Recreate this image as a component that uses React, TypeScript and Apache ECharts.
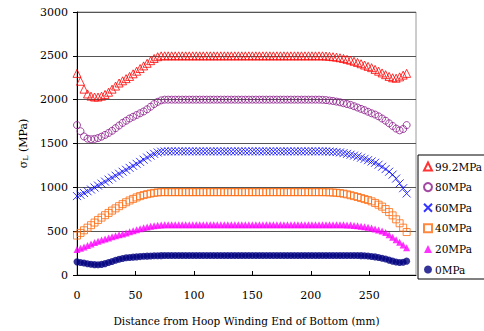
import React, { useEffect, useRef } from "react";
import * as echarts from "echarts";

const xs = [0,3,6,9,12,15,18,21,24,27,30,33,36,39,42,45,48,51,54,57,60,63,66,69,72,75,78,81,84,87,90,93,96,99,102,105,108,111,114,117,120,123,126,129,132,135,138,141,144,147,150,153,156,159,162,165,168,171,174,177,180,183,186,189,192,195,198,201,204,207,210,213,216,219,222,225,228,231,234,237,240,243,246,249,252,255,258,261,264,267,270,273,276,279,282];

const s992 = [2300,2210,2120,2065,2040,2030,2030,2040,2060,2085,2120,2155,2190,2215,2240,2265,2295,2325,2355,2385,2415,2445,2470,2490,2500,
2500,2500,2500,2500,2500,2500,2500,2500,2500,2500,2500,2500,2500,2500,2500,2500,2500,2500,2500,2500,2500,2500,2500,2500,2500,2500,2500,2500,2500,2500,2500,2500,2500,2500,2500,2500,2500,2500,2500,2500,2500,2500,2500,2500,2500,2500,
2498,2495,2490,2485,2478,2470,2460,2450,2438,2425,2410,2395,2380,2365,2345,2325,2305,2285,2265,2250,2245,2260,2280,2300];

const s80 = [1710,1640,1580,1555,1548,1552,1562,1578,1598,1620,1645,1675,1705,1735,1760,1785,1805,1825,1845,1865,1890,1920,1950,1975,1992,2000,
2000,2000,2000,2000,2000,2000,2000,2000,2000,2000,2000,2000,2000,2000,2000,2000,2000,2000,2000,2000,2000,2000,2000,2000,2000,2000,2000,2000,2000,2000,2000,2000,2000,2000,2000,2000,2000,2000,2000,2000,2000,2000,2000,2000,
1998,1995,1990,1985,1978,1970,1960,1950,1940,1925,1910,1895,1880,1862,1845,1830,1810,1785,1760,1730,1700,1670,1650,1665,1710];

const s60 = [900,915,935,955,975,998,1020,1042,1065,1088,1110,1133,1155,1178,1200,1222,1245,1268,1290,1315,1340,1362,1382,1398,1407,1410,
1410,1410,1410,1410,1410,1410,1410,1410,1410,1410,1410,1410,1410,1410,1410,1410,1410,1410,1410,1410,1410,1410,1410,1410,1410,1410,1410,1410,1410,1410,1410,1410,1410,1410,1410,1410,1410,1410,1410,1410,1410,1410,1410,1410,1410,
1410,1408,1405,1402,1398,1390,1382,1372,1362,1351,1338,1325,1310,1295,1280,1258,1235,1208,1178,1145,1100,1045,990,930];

const s40 = [450,480,510,540,568,598,628,655,682,708,735,760,785,808,830,850,868,885,900,912,922,930,937,942,945,
945,945,945,945,945,945,945,945,945,945,945,945,945,945,945,945,945,945,945,945,945,945,945,945,945,945,945,945,945,945,945,945,945,945,945,945,945,945,945,945,945,945,945,945,945,
945,944,943,941,938,934,928,920,910,900,890,878,866,855,840,822,802,780,752,718,680,635,590,540,490];

const s20 = [290,305,320,337,353,370,385,398,411,423,435,447,458,469,480,492,505,517,528,538,548,556,562,567,570,
572,572,572,572,572,572,572,572,572,572,572,572,572,572,572,572,572,572,572,572,572,572,572,572,572,572,572,572,572,572,572,572,572,572,572,572,572,572,572,572,572,572,572,572,572,572,572,572,572,572,572,
572,571,569,566,562,557,551,544,535,525,514,501,485,460,430,402,373,343,312];

const s0 = [150,143,136,129,122,118,117,121,130,142,155,168,180,189,196,200,204,207,210,213,215,217,219,220,221,222,
222,222,222,222,222,222,222,222,222,222,222,222,222,222,222,222,222,222,222,222,222,222,222,222,222,222,222,222,222,222,222,222,222,222,222,222,222,222,222,222,222,222,222,222,222,222,222,222,222,222,222,222,222,222,
222,221,219,216,212,207,200,192,182,170,158,148,143,145,158];

const seriesNames = ["99.2MPa", "80MPa", "60MPa", "40MPa", "20MPa", "0MPa"];
const xTicks = [0, 50, 100, 150, 200, 250];
const yTicks = [0, 500, 1000, 1500, 2000, 2500, 3000];

const FONT = "DejaVu Serif";

export default function App() {
  const ref = useRef<HTMLDivElement>(null);
  useEffect(() => {
    if (!ref.current) return;
    const chart = echarts.init(ref.current, null, { renderer: "svg" });
    const pairs = (arr: number[]) => xs.map((x, i) => [x, arr[i]]);
    const cross = "path://M0,0L10,10M10,0L0,10";
    const mk = (name: string, arr: number[], symbol: string, size: number, color: string, hollow: boolean) => ({
      name,
      type: "scatter",
      data: pairs(arr),
      symbol,
      symbolSize: size,
      itemStyle: hollow
        ? { color: "rgba(0,0,0,0)", borderColor: color, borderWidth: 1 }
        : { color, borderWidth: 0 },
      emphasis: { disabled: true },
    });
    chart.setOption({
      animation: false,
      backgroundColor: "#ffffff",
      textStyle: { fontFamily: FONT, color: "#000" },
      grid: {
        left: 77,
        right: 68,
        top: 12,
        bottom: 53.5,
        show: true,
        borderColor: "#9a9a9a",
        borderWidth: 1,
      },
      legend: {
        orient: "vertical",
        left: 418,
        top: 155,
        padding: [6, 5, 4, 5],
        itemWidth: 8,
        itemHeight: 8,
        itemGap: 9.6,
        borderColor: "#000",
        borderWidth: 1,
        backgroundColor: "#fff",
        textStyle: { fontFamily: FONT, fontSize: 10.5, color: "#000", padding: [0, 0, 0, -2] },
        data: seriesNames,
      },
      xAxis: {
        type: "value",
        min: xTicks[0],
        max: 290,
        interval: 50,
        name: "Distance from Hoop Winding End of Bottom (mm)",
        nameLocation: "middle",
        nameGap: 40,
        nameTextStyle: { fontFamily: FONT, fontSize: 10.5, color: "#000" },
        axisLine: { show: true, lineStyle: { color: "#000", width: 1 } },
        axisTick: { show: true, inside: true, length: 4, lineStyle: { color: "#000" } },
        axisLabel: {
          fontFamily: FONT,
          fontSize: 11,
          color: "#000",
          margin: 15,
          showMaxLabel: false,
          formatter: (v: number) => (xTicks.includes(v) ? String(v) : ""),
        },
        splitLine: { show: false },
      },
      yAxis: {
        type: "value",
        min: yTicks[0],
        max: yTicks[yTicks.length - 1],
        interval: 500,
        name: "{a|σ}{b|L}{a| (MPa)}",
        nameLocation: "middle",
        nameGap: 48,
        nameTextStyle: {
          fontFamily: FONT,
          fontSize: 11,
          color: "#000",
          rich: {
            a: { fontFamily: FONT, fontSize: 11, color: "#000" },
            b: { fontFamily: FONT, fontSize: 8, color: "#000", verticalAlign: "bottom", padding: [4, 0, 0, 0] },
          },
        },
        axisLine: { show: true, lineStyle: { color: "#000", width: 1 } },
        axisTick: { show: true, inside: false, length: 4, lineStyle: { color: "#000" } },
        axisLabel: {
          fontFamily: FONT,
          fontSize: 11,
          color: "#000",
          margin: 9,
          formatter: (v: number) => String(v),
        },
        splitLine: { show: true, lineStyle: { color: "#555555", width: 1 } },
      },
      series: [
        mk(seriesNames[0], s992, "triangle", 8, "#ff0000", true),
        mk(seriesNames[1], s80, "circle", 7, "#8b1a8b", true),
        mk(seriesNames[2], s60, cross, 8, "#0000ff", true),
        mk(seriesNames[3], s40, "rect", 7, "#ff6a0e", true),
        mk(seriesNames[4], s20, "triangle", 7, "#ff00ff", false),
        mk(seriesNames[5], s0, "circle", 7, "#000080", false),
      ],
    });
    return () => chart.dispose();
  }, []);
  return (
    <div
      ref={ref}
      style={{ position: "fixed", left: 0, top: 0, width: 484, height: 331, background: "#fff" }}
    />
  );
}
